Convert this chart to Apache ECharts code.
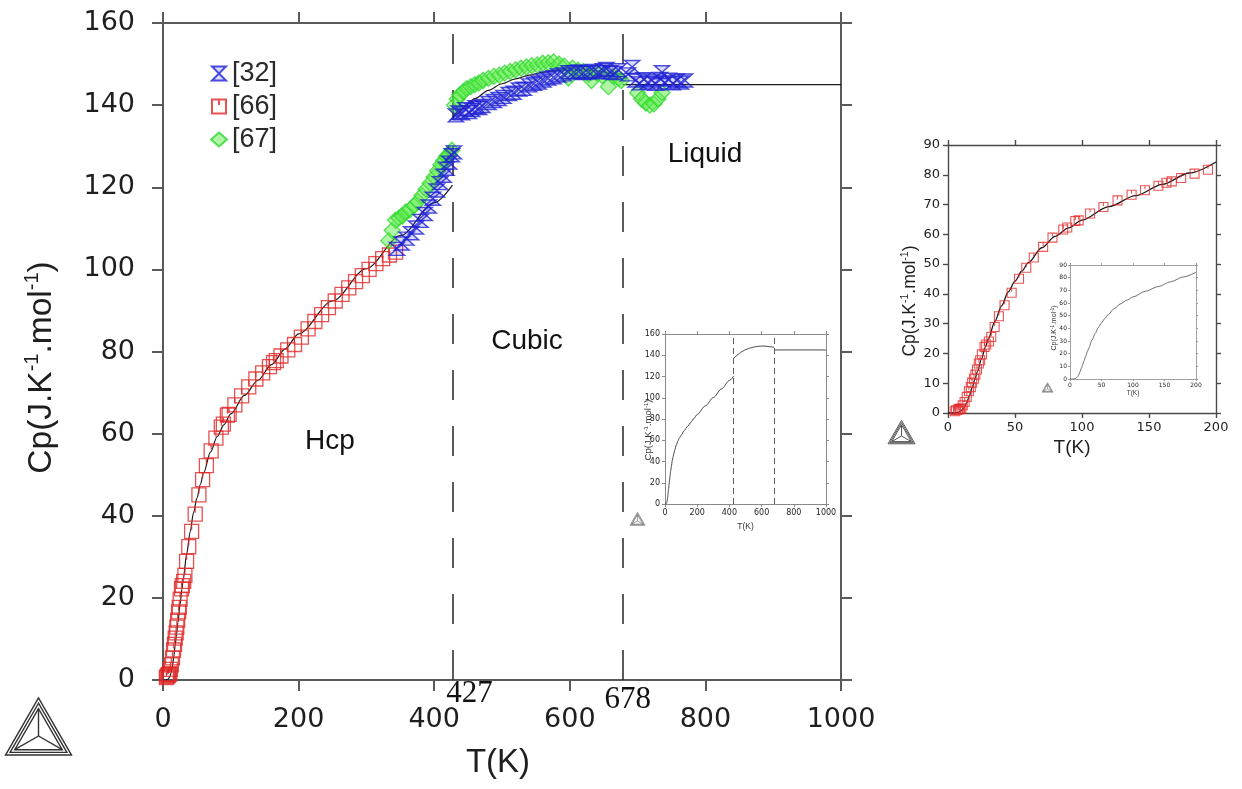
<!DOCTYPE html>
<html><head><meta charset="utf-8">
<script src="https://cdn.jsdelivr.net/npm/echarts@6/dist/echarts.min.js"></script>
<style>html,body{margin:0;padding:0;background:#fff}#c{width:1242px;height:789px}</style>
</head><body><div id="c"></div>
<script>
// ---------------- data ----------------
const transitions = [427, 678];
const phaseNames = ['Hcp', 'Cubic', 'Liquid'];
const legendNames = ['[32]', '[66]', '[67]'];

// calculated (model) curve
const hcpModelT  = [0, 4, 6, 8, 10, 12, 14, 16, 18, 20, 22, 25, 28, 30, 35, 40, 45, 50, 55, 60, 70, 80, 90, 100, 120, 140, 160, 180, 200, 250, 300, 350, 400, 427];
const hcpModelCp = [0, 0, 0.1, 0.3, 0.8, 1.8, 3.5, 5.8, 8.5, 11.2, 14, 18.2, 22.2, 24.8, 30.8, 36, 40.7, 44.3, 47.6, 50.5, 55.5, 59.3, 62.2, 64.8, 69.3, 73, 76.8, 80.6, 84.3, 92.3, 100.2, 108.2, 116.2, 120.5];
const cubicModelT  = [427, 440, 460, 480, 500, 520, 540, 560, 580, 600, 620, 640, 660, 678];
const cubicModelCp = [137, 139, 141.6, 143.6, 145.2, 146.4, 147.3, 148, 148.4, 148.6, 148.6, 148.3, 147.9, 147.4];
const liquidModelT  = [678, 1000];
const liquidModelCp = [145, 145];

// experimental data [66]
const ref66T  = [5, 6, 7.5, 8, 9, 10, 11, 12.4, 14, 15.6, 17, 18, 19.4, 20.4, 21.6, 23, 24, 25.3, 27.3, 28.5, 30.5, 32.3, 34.8, 38, 42.2, 47.5, 53, 58.4, 64, 71, 78, 86, 89, 95, 97.5, 106, 116, 126.5, 137, 147, 157, 163, 167, 174, 184, 194,
                 204, 214, 224, 234, 244, 254, 264, 274, 284, 294, 304, 314, 324, 334, 343];
const ref66Cp = [0.6, 0.9, 1.1, 1.3, 1.4, 1.5, 2.6, 3.7, 5.4, 7.3, 8.7, 10.2, 11.5, 12.9, 14.6, 16.6, 17.7, 19.7, 22.2, 23, 24, 25.5, 28.9, 32.5, 36.2, 40.4, 45.1, 48.8, 52.2, 55.8, 58.9, 61.6, 62.3, 64.5, 64.7, 67, 69.2, 71.4, 73.3, 74.8, 76.3, 77.3, 77.8, 78.9, 80.4, 81.7,
                 83.5, 85.5, 87.3, 89, 90.7, 92.3, 93.9, 95.5, 97, 98.5, 100, 101.4, 102.6, 103.5, 104.2];

// experimental data [32]
const ref32T  = [345, 352, 359, 366, 373, 380, 386, 392, 398, 404, 409, 414, 418, 422, 426, 429,
                 432, 436, 441, 446, 451, 456, 461, 466, 471, 480, 488, 495, 502, 510, 517, 525, 532, 540, 547, 554, 561, 568, 576, 583, 591, 598, 606, 613, 620, 627, 635, 642, 649, 654, 660, 666, 672,
                 686, 692, 697, 703, 709, 715, 721, 727, 733, 736, 740, 746, 752, 758, 764, 770];
const ref32Cp = [105, 106.3, 107.5, 108.8, 110.2, 111.8, 113.5, 115.3, 117.2, 119.2, 121, 122.8, 124.5, 126, 127.8, 128.5,
                 137.5, 138.2, 138, 139, 138.3, 138.8, 139.5, 139.3, 139.8, 140.5, 141, 141.5, 142, 142.7, 143, 143.8, 144, 144.8, 145.2, 145.5, 146, 146.5, 146.8, 147.2, 147.5, 148, 148, 148.2, 147.8, 148, 148.3, 148, 148.5, 148.8, 148, 147.8, 148.5,
                 147.5, 149.3, 146, 145.3, 146.3, 145.5, 146, 145.2, 146.4, 148, 145.5, 146.2, 145.3, 146, 145.5, 146];

// experimental data [67]
const ref67T  = [333, 338, 343, 348, 353, 358, 364, 370, 376, 382, 388, 394, 400, 405, 410, 414, 418, 422, 426,
                 430, 434, 438, 443, 448, 454, 460, 466, 472, 480, 488, 496, 504, 512, 520, 528, 536, 544, 552, 560, 568, 576, 584, 592, 598, 604, 612, 620, 628, 632, 640, 648, 657, 664, 672, 676,
                 700, 706, 712, 718, 724, 730, 736];
const ref67Cp = [107, 109.5, 112, 112.5, 113, 114, 114.5, 115.5, 116.5, 118, 119.5, 121, 122.5, 124, 125.5, 126.5, 127.5, 128, 129,
                 140, 141.5, 142.5, 143.3, 144, 144.5, 145, 145.4, 146, 146.5, 147, 147.3, 147.8, 148.2, 148.6, 149, 149.3, 149.6, 149.8, 150.2, 150.3, 150.5, 150, 149.5, 146.6, 149, 148.5, 148.2, 147.5, 146, 147.8, 147.2, 144.5, 147, 146.5, 146,
                 143, 141.5, 140.5, 140, 140.3, 141.5, 143];

// axis ticks [min, max, step]
const mainXTicks = [0, 1000, 200];
const mainYTicks = [0, 160, 20];
const lowXTicks = [0, 200, 50];
const lowYTicks = [0, 90, 10];

// ---------------- helpers ----------------
const zip = (xs, ys) => xs.map((x, i) => [x, ys[i]]);
const upTo = (xs, ys, lim) => zip(xs, ys).filter(p => p[0] <= lim);

function axes(kind, gi, ticks, s) {
  const base = {
    type: 'value', gridIndex: gi, min: ticks[0], max: ticks[1], interval: ticks[2],
    splitLine: {show: false},
    axisLine: {show: true, onZero: false, lineStyle: {color: s.line, width: s.lw}},
    axisTick: {show: true, inside: false, length: s.tick, lineStyle: {color: s.line, width: s.lw}}
  };
  const primary = Object.assign({}, base, {
    position: kind === 'x' ? 'bottom' : 'left',
    axisLabel: {show: true, interval: 0, margin: s.margin, fontSize: s.fs, fontFamily: 'DejaVu Sans', color: '#1e1e1e',
      formatter: v => String(v)},
    name: s.name, nameLocation: 'middle', nameGap: s.nameGap, nameRotate: kind === 'x' ? 0 : 90,
    nameMoveOverlap: false,
    nameTextStyle: s.nameStyle
  });
  const secondary = Object.assign({}, base, {
    position: kind === 'x' ? 'top' : 'right',
    axisLabel: {show: false}, name: ''
  });
  return [primary, secondary];
}
function cpName(fa, fs, color, shift) {
  return {
    name: '{a|Cp(J.K}{s|-1}{a|.mol}{s|-1}{a|)}',
    nameStyle: {padding: [0, shift * 2, 0, 0], rich: {
      a: {fontSize: fa, fontFamily: 'Liberation Sans', color: color, lineHeight: fa * 1.15},
      s: {fontSize: fs, fontFamily: 'Liberation Sans', color: color, verticalAlign: 'top', lineHeight: fs}
    }}
  };
}
function tName(f, color, shift) {
  return {name: 'T(K)', nameStyle: {fontSize: f, fontFamily: 'Liberation Sans', color: color, padding: [0, shift * 2, 0, 0]}};
}

const mainStyle  = {line: '#5a5a5a', lw: 2, tick: 11, fs: 27, margin: 26};
const insetStyle = {line: '#8a8a8a', lw: 1, tick: 3, fs: 8, margin: 5};
const rightStyle = {line: '#4a4a4a', lw: 1.4, tick: 5, fs: 13, margin: 8};
const rInsStyle  = {line: '#8a8a8a', lw: 0.8, tick: 2, fs: 6, margin: 3};

const mX = axes('x', 0, mainXTicks, Object.assign({}, mainStyle, tName(33, '#1e1e1e', 4), {nameGap: 66}));
const mY = axes('y', 0, mainYTicks, Object.assign({}, mainStyle, {margin: 28}, cpName(33.5, 20, '#1e1e1e', 16), {nameGap: 102}));
const iX = axes('x', 1, mainXTicks, Object.assign({}, insetStyle, tName(8.5, '#333', 0), {nameGap: 18}));
const iY = axes('y', 1, mainYTicks, Object.assign({}, insetStyle, cpName(9.5, 6, '#333', 11), {nameGap: 11}));
const rX = axes('x', 2, lowXTicks, Object.assign({}, rightStyle, tName(19, '#1e1e1e', 10), {nameGap: 25}));
const rY = axes('y', 2, lowYTicks, Object.assign({}, rightStyle, cpName(17.5, 10.5, '#1e1e1e', 22), {nameGap: 28}));
const qX = axes('x', 3, lowXTicks, Object.assign({}, rInsStyle, tName(6.5, '#333', 0), {nameGap: 11}));
const qY = axes('y', 3, lowYTicks, Object.assign({}, rInsStyle, cpName(7, 4.5, '#333', 6), {nameGap: 12}));

const xAxis = [...mX, ...iX, ...rX, ...qX];
const yAxis = [...mY, ...iY, ...rY, ...qY];

const symHourglass = 'path://M0,0L10,0L0,10L10,10Z';
const symSquareTick = 'path://M0,0L10,0L10,10L0,10Z M5,0L5,4';

function modelLines(xi, yi, width, dash) {
  const common = {type: 'line', xAxisIndex: xi, yAxisIndex: yi, showSymbol: false, symbol: 'none',
    smooth: 0.3, smoothMonotone: 'x', silent: true, z: 3,
    lineStyle: {color: '#1a1a1a', width: width}};
  return [
    Object.assign({}, common, {name: 'model-hcp-' + xi, data: zip(hcpModelT, hcpModelCp),
      markLine: {silent: true, symbol: 'none', label: {show: false},
        lineStyle: {color: '#333', width: dash.w, type: dash.d},
        data: transitions.map(t => ({xAxis: t}))}}),
    Object.assign({}, common, {name: 'model-cub-' + xi, data: zip(cubicModelT, cubicModelCp)}),
    Object.assign({}, common, {name: 'model-liq-' + xi, data: zip(liquidModelT, liquidModelCp)})
  ];
}

const series = [
  ...modelLines(0, 0, 1.2, {w: 1.6, d: [30, 26]}),
  {type: 'scatter', name: '[66]', xAxisIndex: 0, yAxisIndex: 0, data: zip(ref66T, ref66Cp),
   symbol: symSquareTick, symbolSize: 14, z: 4,
   itemStyle: {color: 'rgba(255,255,255,0)', borderColor: '#e02626', borderWidth: 1.3}},
  {type: 'scatter', name: '[67]', xAxisIndex: 0, yAxisIndex: 0, data: zip(ref67T, ref67Cp),
   symbol: 'diamond', symbolSize: 16, z: 5,
   itemStyle: {color: 'rgba(90,235,70,0.6)', borderColor: '#2ed82e', borderWidth: 1.3}},
  {type: 'scatter', name: '[32]', xAxisIndex: 0, yAxisIndex: 0, data: zip(ref32T, ref32Cp),
   symbol: symHourglass, symbolSize: [15, 13], z: 6,
   itemStyle: {color: 'rgba(40,40,220,0.2)', borderColor: '#1e22d2', borderWidth: 1.5}},
  ...modelLines(2, 2, 0.8, {w: 0.8, d: [6, 4]}),
  {type: 'line', name: 'model-low', xAxisIndex: 4, yAxisIndex: 4, data: upTo(hcpModelT, hcpModelCp, 200),
   showSymbol: false, symbol: 'none', smooth: 0.3, smoothMonotone: 'x', z: 3,
   lineStyle: {color: '#1a1a1a', width: 1.3}},
  {type: 'scatter', name: '[66] low', xAxisIndex: 4, yAxisIndex: 4, data: upTo(ref66T, ref66Cp, 200),
   symbol: symSquareTick, symbolSize: 9, z: 4,
   itemStyle: {color: 'rgba(255,255,255,0)', borderColor: '#e52a2a', borderWidth: 1.1}},
  {type: 'line', name: 'model-low-inset', xAxisIndex: 6, yAxisIndex: 6, data: upTo(hcpModelT, hcpModelCp, 200),
   showSymbol: false, symbol: 'none', smooth: 0.3, smoothMonotone: 'x', z: 3,
   lineStyle: {color: '#333', width: 0.7}}
];

const option = {
  backgroundColor: '#ffffff',
  animation: false,
  grid: [
    {left: 163, top: 23, width: 678, height: 657, containLabel: false, outerBoundsMode: 'none'},
    {left: 665, top: 334, width: 161, height: 170, containLabel: false, outerBoundsMode: 'none'},
    {left: 948, top: 145, width: 268, height: 268, containLabel: false, outerBoundsMode: 'none'},
    {left: 1070, top: 265, width: 126, height: 114, containLabel: false, outerBoundsMode: 'none'}
  ],
  legend: {
    data: legendNames, orient: 'vertical', left: 205, top: 55, selectedMode: false,
    itemWidth: 16, itemHeight: 14, itemGap: 6,
    textStyle: {fontSize: 27, lineHeight: 27, color: '#2a2a2a', fontFamily: 'Liberation Sans'}
  },
  xAxis, yAxis, series
};

const chart = echarts.init(document.getElementById('c'), null, {renderer: 'canvas'});
chart.setOption(option);

// ---------------- annotations ----------------
function logo(cx, cy, s, color, lw) {
  const tri = f => {
    const ss = s * f, hh = ss * Math.sqrt(3) / 2;
    return [[cx, cy - 2 * hh / 3], [cx - ss / 2, cy + hh / 3], [cx + ss / 2, cy + hh / 3]];
  };
  const els = [1, 0.86, 0.72].map(f => ({type: 'polygon', shape: {points: tri(f)},
    style: {fill: 'none', stroke: color, lineWidth: lw}}));
  tri(0.72).forEach(p => els.push({type: 'line', shape: {x1: cx, y1: cy, x2: p[0], y2: p[1]},
    style: {stroke: color, lineWidth: lw}}));
  return els;
}
const px = transitions.map(t => chart.convertToPixel({xAxisIndex: 0}, t));
const bottomY = chart.convertToPixel({yAxisIndex: 0}, 0);
const txt = (text, x, y, size, family, align) => ({type: 'text', x: x, y: y,
  style: {text: text, fontSize: size, fontFamily: family, fill: '#111', align: align || 'center', verticalAlign: 'middle'}});

const graphic = [
  txt(phaseNames[0], 330, 441, 28, 'Liberation Sans'),
  txt(phaseNames[1], 527, 341, 28, 'Liberation Sans'),
  txt(phaseNames[2], 705, 154, 28, 'Liberation Sans'),
  txt(String(transitions[0]), px[0] + 17, bottomY + 14, 31, 'Liberation Sans Narrow'),
  txt(String(transitions[1]), px[1] + 5, bottomY + 20, 31, 'Liberation Sans Narrow'),
  ...logo(38.5, 736, 66, '#333', 1.4),
  ...logo(901.5, 436, 27, '#555', 1),
  ...logo(637.5, 521, 15, '#777', 0.7),
  ...logo(1047.5, 389, 11, '#777', 0.6)
];
chart.setOption({graphic: graphic});
</script>
</body></html>
